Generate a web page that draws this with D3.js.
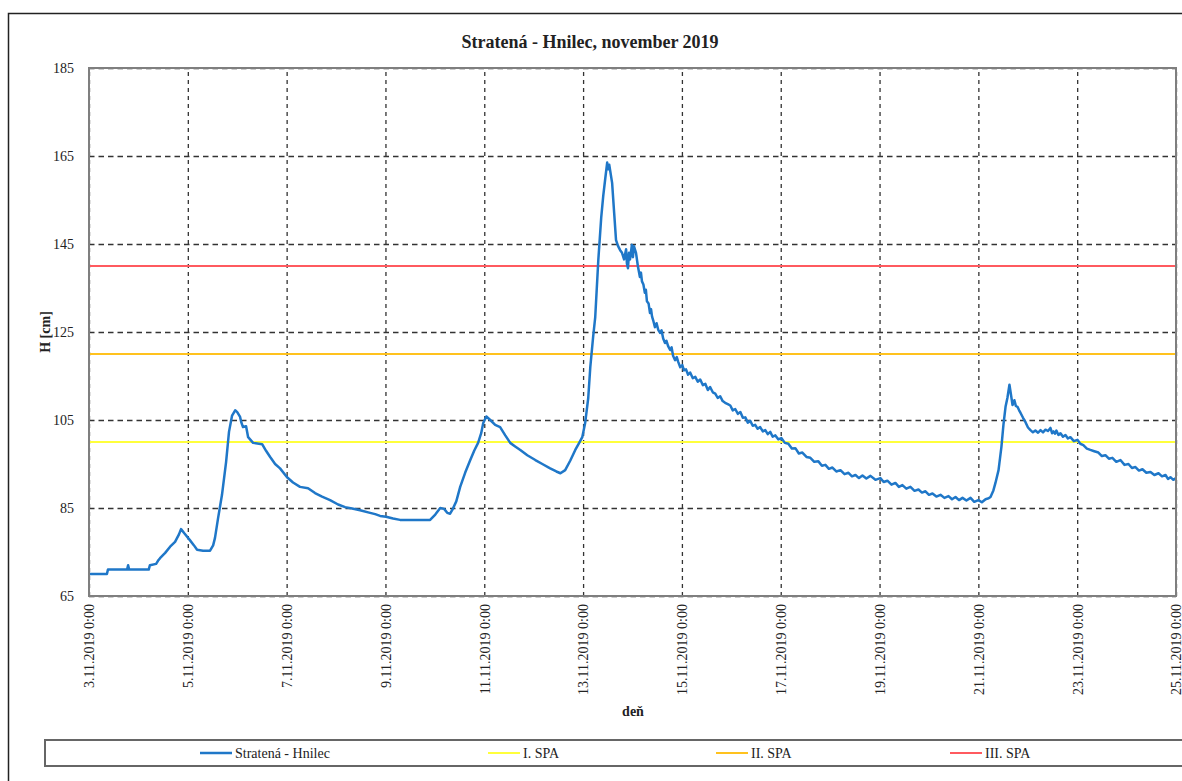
<!DOCTYPE html>
<html>
<head>
    <meta charset="UTF-8">
    <style>
        body { margin: 0; background: #fff; }
        svg text { font-family: "Liberation Serif", "Times New Roman", serif; fill: #222; }
        .grid line { stroke: #333; stroke-width: 1.3px; }
        .grid path { display: none; }
        .axis path, .axis line { display: none; }
        .axis text { font-size: 14px; font-family: "Liberation Serif", serif; }
    </style>
</head>
<body>
<svg width="1182" height="781"></svg>
<script src="https://d3js.org/d3.v7.min.js"></script>
<script>

    // hours since 3.11.2019 0:00 and water level H [cm]
    let hours = [0, 8.7, 9.2, 18.5, 19, 19.5, 29, 29.6, 32.6, 33.5, 34.5, 37, 39.4, 41.8, 43.7, 44.7, 46.2, 49, 51, 52.5,
        55.4, 58.8, 60.3, 61.2, 62.7, 64.6, 66.6, 68, 69.5, 71, 72, 73.4, 73.9, 74.8, 76.3, 77.3, 79.7, 84.1, 86, 88,
        90.4, 92.8, 96.2, 99.1, 102.5, 106.4, 109.8, 113.2, 117.1, 121, 124.4, 127.8, 131.7, 135.6, 139, 141.4, 144.3, 147.7, 151.1, 165.7,
        168.2, 170.6, 172.5, 174, 175.4, 176.4, 178.4, 180.3, 182.7, 185.2, 187.1, 189, 190.5, 191.5, 193, 194.9, 197.3, 199.7, 202.2, 204.6,
        207, 209.5, 212.9, 216.8, 220.2, 224, 227, 229, 231.3, 233.8, 236.2, 238.1, 239.6, 241, 242.5, 243.5, 244.9, 245.9, 247.4, 248.8,
        249.8, 250.8, 251.7, 252.2, 252.7, 254.1, 255.1, 256, 257, 258, 258.9, 259.9, 260.9, 261.3, 261.8, 262.3, 262.8, 263.7, 264.2, 264.7,
        265.7, 266.6, 267.6, 268.1, 268.6, 269.3, 270, 270.5, 271, 271.8, 272.5, 273, 273.5, 274.2, 274.9, 275.7, 276.5, 277.4, 278.1, 278.9,
        279.8, 280.5, 281.3, 282.3, 283, 283.7, 284.7, 285.5, 286.2, 287.2, 288.2, 289, 290, 291, 292, 293.3, 294.5, 295.7, 296.9, 298.2,
        299.4, 300.6, 301.7, 303, 304.2, 305.4, 306.6, 307.8, 309, 310.3, 311.5, 312.7, 313.9, 315.2, 316.4, 317.6, 318.8, 320, 321.2, 322.4,
        323.6, 324.8, 326, 327.3, 328.5, 329.7, 330.9, 332.1, 333.4, 334.8, 336.3, 338, 339.7, 341.4, 343.1, 344.8, 346.5, 348.5, 350.4, 352.3,
        354.3, 356, 357.7, 359.4, 361.1, 363, 365, 367, 368.9, 370.6, 372.3, 374, 375.7, 377.6, 379.6, 382, 384.4, 386, 387.8, 389.8,
        391.7, 393.4, 395.1, 397, 399, 401, 402.9, 404.6, 406.3, 408, 409.7, 411.6, 413.6, 415.5, 417.5, 419.2, 420.9, 422.6, 424.3, 426.2,
        428.2, 430, 432, 433.7, 435.5, 437, 437.9, 439.3, 440.3, 441.8, 443.2, 444.2, 445.2, 446.1, 447.1, 447.6, 448.6, 449.5, 450.2, 451,
        451.8, 452.5, 453.7, 454.9, 456.1, 457.3, 458.5, 459.7, 461, 462.2, 463.4, 464.6, 465.8, 467, 467.8, 468.5, 469.2, 469.9, 470.9, 471.9,
        473.1, 474.3, 475.5, 476.7, 478.4, 480.1, 481.5, 483, 484.7, 486.4, 488.3, 490.3, 492, 493.7, 495.4, 497.1, 499, 501, 503, 504.9,
        506.6, 508.3, 510, 511.7, 513.6, 515.6, 517.5, 519.5, 521.2, 522.9, 524.1, 525.3, 526.7, 528];

    let levels = [70, 70, 71, 71, 72, 71, 71, 72, 72.3, 73, 73.6, 74.8, 76.2, 77.3, 79, 80.2, 79.3, 77.7, 76.5, 75.5,
        75.3, 75.3, 76.5, 78.2, 82.7, 88, 95.5, 102.3, 106, 107.2, 106.8, 105.7, 104.6, 103.4, 103.6, 101.1, 99.8, 99.5, 98, 96.6,
        95, 94, 92, 90.8, 89.8, 89.5, 88.4, 87.6, 86.8, 85.8, 85.2, 84.9, 84.5, 84, 83.6, 83.2, 83, 82.6, 82.3, 82.3,
        83.5, 85, 84.8, 83.9, 83.7, 84.5, 86.5, 89.8, 93, 95.9, 98, 99.8, 102, 104.3, 105.8, 105, 103.9, 103.4, 101.5, 99.8,
        99, 98.2, 97, 95.9, 95, 94, 93.3, 92.9, 93.6, 95.8, 98.2, 99.8, 101.1, 104.3, 110, 117, 124, 128.4, 141.4, 151,
        156, 160, 163.5, 162, 163, 158.9, 152, 145.9, 144.5, 143.6, 143, 141.5, 143.8, 140.5, 139.5, 143, 141.5, 144.8, 142, 144.5,
        143, 140, 137.5, 138.5, 136.5, 135.8, 133.9, 134.6, 132, 131.5, 129.3, 130.2, 128.5, 127.4, 126.1, 127, 125.5, 124.8, 125.4, 123.5,
        122.5, 123, 121.8, 120.9, 121.5, 119.6, 118.6, 119.3, 118.2, 117, 117.5, 116.3, 116.5, 115.3, 115.8, 114.5, 114.8, 113.7, 114.2, 112.9,
        113.2, 111.8, 112.5, 111.3, 111, 110, 110.4, 109.3, 108.9, 108.6, 108.3, 107.2, 107.5, 106.4, 106.8, 105.5, 105.6, 104.4, 104.8, 103.7,
        103.9, 103, 103.4, 102.4, 102.7, 101.8, 102.3, 101.2, 101.5, 100.6, 100.9, 99.8, 99.6, 98.5, 98.6, 97.4, 97.6, 96.6, 96.4, 95.5,
        95.6, 94.6, 94.8, 93.9, 94.2, 93.3, 93.6, 92.7, 93, 92.2, 92.5, 91.8, 92.4, 91.7, 92.3, 91.4, 91.8, 90.9, 91.2, 90.3,
        90.7, 89.8, 90.2, 89.4, 89.8, 88.9, 89.2, 88.5, 88.8, 88, 88.3, 87.6, 88, 87.3, 87.7, 87, 87.5, 86.8, 87.3, 86.7,
        87.3, 86.4, 86.8, 86.3, 87, 87.2, 87.5, 89, 90.7, 93.6, 98.9, 104, 108, 110, 113, 111.5, 108.4, 109.5, 108.2, 108,
        107.2, 106.6, 105.5, 104.5, 103.3, 102.7, 102.2, 102.6, 102.1, 102.7, 102.2, 102.8, 102.5, 103.2, 102, 102.4, 101.9, 102.6, 101.6, 102,
        101.2, 101.6, 100.8, 101.1, 100.2, 100.5, 99.6, 99.3, 98.5, 98.2, 97.9, 97.6, 96.8, 97, 96.2, 96.4, 95.5, 95.9, 94.8, 95,
        94.1, 94.3, 93.5, 93.8, 93, 93.2, 92.5, 92.9, 92.2, 92.5, 91.6, 92, 91.4, 91.8];

    // flood activity levels (stupne povodňovej aktivity)
    let spaNames = ["I. SPA", "II. SPA", "III. SPA"];
    let spaLevels = [100, 120, 140];

    let tickDays = [3, 5, 7, 9, 11, 13, 15, 17, 19, 21, 23, 25];
    let yTicks = [65, 85, 105, 125, 145, 165, 185];

    let seriesName = "Stratená - Hnilec";
    let spaColors = ["#ffff3b", "#ffc21e", "#ff5a5f"];
    let lineColor = "#1f77c8";

    let svg = d3.select("svg");
    let plotLeft = 89, plotRight = 1176, plotTop = 68, plotBottom = 596;

    let start = new Date(2019, 10, 3);
    let end = new Date(2019, 10, 25);

    let x = d3.scaleTime().domain([start, end]).range([plotLeft, plotRight]);
    let y = d3.scaleLinear().domain([65, 185]).range([plotBottom, plotTop]);

    let data = hours.map((h, i) => ({ date: new Date(start.getTime() + h * 3600000), value: levels[i] }));
    let tickDates = tickDays.map(d => new Date(2019, 10, d));

    // outer frame
    svg.append("rect")
        .attr("x", 8.5).attr("y", 13.5)
        .attr("width", 1200).attr("height", 800)
        .attr("fill", "none").attr("stroke", "#222").attr("stroke-width", 1.5);

    // title
    svg.append("text")
        .attr("x", 590).attr("y", 48)
        .attr("text-anchor", "middle")
        .style("font-size", "18px").style("font-weight", "bold")
        .text("Stratená - Hnilec, november 2019");

    // grid
    svg.append("g")
        .attr("class", "grid")
        .attr("transform", "translate(0," + plotBottom + ")")
        .call(d3.axisBottom(x).tickValues(tickDates).tickSize(-(plotBottom - plotTop)).tickFormat(""))
        .selectAll("line").attr("stroke-dasharray", "4,4");

    svg.append("g")
        .attr("class", "grid")
        .attr("transform", "translate(" + plotLeft + ",0)")
        .call(d3.axisLeft(y).tickValues(yTicks).tickSize(-(plotRight - plotLeft)).tickFormat(""))
        .selectAll("line").attr("stroke-dasharray", "5.5,4");

    // SPA threshold lines
    svg.append("g")
        .selectAll("line")
        .data(spaLevels)
        .enter()
        .append("line")
        .attr("x1", plotLeft).attr("x2", plotRight)
        .attr("y1", d => y(d)).attr("y2", d => y(d))
        .attr("stroke", (d, i) => spaColors[i])
        .attr("stroke-width", 2);

    // series line
    svg.append("path")
        .datum(data)
        .attr("fill", "none")
        .attr("stroke", lineColor)
        .attr("stroke-width", 2.5)
        .attr("stroke-linejoin", "round")
        .attr("d", d3.line().x(d => x(d.date)).y(d => y(d.value)));

    // plot border
    svg.append("rect")
        .attr("x", plotLeft).attr("y", plotTop)
        .attr("width", plotRight - plotLeft).attr("height", plotBottom - plotTop)
        .attr("fill", "none").attr("stroke", "#7f7f7f").attr("stroke-width", 2);

    // axes
    svg.append("g")
        .attr("class", "axis")
        .attr("transform", "translate(" + (plotLeft - 12) + ",0)")
        .call(d3.axisLeft(y).tickValues(yTicks).tickSize(0).tickFormat(d3.format("d")));

    let fmt = d => d.getDate() + "." + (d.getMonth() + 1) + "." + d.getFullYear() + " 0:00";
    svg.append("g")
        .attr("class", "axis")
        .attr("transform", "translate(0," + plotBottom + ")")
        .call(d3.axisBottom(x).tickValues(tickDates).tickSize(0).tickFormat(fmt))
        .selectAll("text")
        .attr("transform", "rotate(-90)")
        .attr("text-anchor", "end")
        .attr("x", -8).attr("y", 0).attr("dy", "0.35em");

    // axis titles
    svg.append("text")
        .attr("transform", "translate(50," + ((plotTop + plotBottom) / 2) + ") rotate(-90)")
        .attr("text-anchor", "middle")
        .style("font-size", "14px").style("font-weight", "bold")
        .text("H [cm]");

    svg.append("text")
        .attr("x", 633).attr("y", 716)
        .attr("text-anchor", "middle")
        .style("font-size", "14px").style("font-weight", "bold")
        .text("deň");

    // legend
    svg.append("rect")
        .attr("x", 45).attr("y", 740)
        .attr("width", 1200).attr("height", 26)
        .attr("fill", "#fff").attr("stroke", "#666").attr("stroke-width", 2);

    let legendItems = [seriesName].concat(spaNames);
    let legendColors = [lineColor].concat(spaColors);
    let legendX = [200, 488, 716, 950];

    let leg = svg.append("g")
        .selectAll("g")
        .data(legendItems)
        .enter()
        .append("g")
        .attr("transform", (d, i) => "translate(" + legendX[i] + ",753)");

    leg.append("line")
        .attr("x1", 0).attr("x2", 32)
        .attr("stroke", (d, i) => legendColors[i])
        .attr("stroke-width", (d, i) => i === 0 ? 2.5 : 2);

    leg.append("text")
        .attr("x", 35).attr("dy", "0.35em")
        .style("font-size", "14px")
        .text(d => d);

</script>
</body>
</html>
